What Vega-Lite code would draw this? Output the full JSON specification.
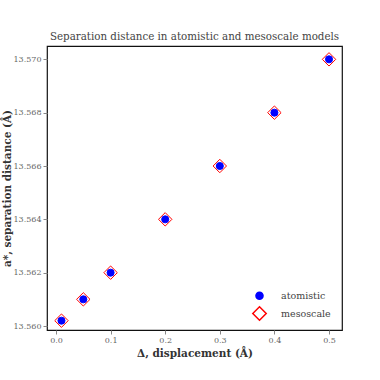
{
  "$schema": "https://vega.github.io/schema/vega-lite/v6.json",
  "autosize": "none",
  "width": 295,
  "height": 284,
  "padding": {"left": 47, "top": 46, "right": 38, "bottom": 50},
  "background": "white",
  "config": {
    "font": "DejaVu Serif",
    "view": {"stroke": "#111", "strokeWidth": 1.2},
    "axis": {"grid": false, "domain": false, "tickColor": "#888", "tickSize": 4, "labelColor": "#666", "labelFontSize": 8, "titleFontSize": 10.5, "titleFontWeight": "bold", "titleColor": "#333", "labelFont": "DejaVu Serif", "titleFont": "DejaVu Serif"},
    "legend": {"labelFont": "DejaVu Serif"},
    "title": {"font": "DejaVu Serif", "fontSize": 10.3, "fontWeight": "normal", "color": "#444", "offset": 4}
  },
  "title": "Separation distance in atomistic and mesoscale models",
  "data": {
    "values": [
      {"d": 0.01, "a": 13.5602, "series": "mesoscale"},
      {"d": 0.05, "a": 13.561, "series": "mesoscale"},
      {"d": 0.1, "a": 13.562, "series": "mesoscale"},
      {"d": 0.2, "a": 13.564, "series": "mesoscale"},
      {"d": 0.3, "a": 13.566, "series": "mesoscale"},
      {"d": 0.4, "a": 13.568, "series": "mesoscale"},
      {"d": 0.5, "a": 13.570, "series": "mesoscale"},
      {"d": 0.01, "a": 13.5602, "series": "atomistic"},
      {"d": 0.05, "a": 13.561, "series": "atomistic"},
      {"d": 0.1, "a": 13.562, "series": "atomistic"},
      {"d": 0.2, "a": 13.564, "series": "atomistic"},
      {"d": 0.3, "a": 13.566, "series": "atomistic"},
      {"d": 0.4, "a": 13.568, "series": "atomistic"},
      {"d": 0.5, "a": 13.570, "series": "atomistic"}
    ]
  },
  "mark": {"type": "point", "strokeWidth": 1, "opacity": 1},
  "encoding": {
    "x": {"field": "d", "type": "quantitative", "title": "Δ, displacement (Å)",
      "scale": {"domain": [-0.0165, 0.5238], "nice": false, "zero": false},
      "axis": {"values": [0, 0.1, 0.2, 0.3, 0.4, 0.5], "format": ".1f", "titlePadding": 4}},
    "y": {"field": "a", "type": "quantitative", "title": "a*, separation distance (Å)",
      "scale": {"domain": [13.55985, 13.5705], "nice": false, "zero": false},
      "axis": {"values": [13.56, 13.562, 13.564, 13.566, 13.568, 13.57], "format": ".3f", "titleX": -35}},
    "shape": {"field": "series", "type": "nominal", "scale": {"domain": ["atomistic", "mesoscale"], "range": ["circle", "diamond"]}, "legend": {"title": null}},
    "fill": {"field": "series", "type": "nominal", "scale": {"domain": ["atomistic", "mesoscale"], "range": ["#0000ff", "transparent"]}, "legend": {"title": null}},
    "stroke": {"field": "series", "type": "nominal", "scale": {"domain": ["atomistic", "mesoscale"], "range": ["#0000ff", "#ff0000"]}, "legend": {"title": null}},
    "size": {"field": "series", "type": "nominal", "scale": {"domain": ["atomistic", "mesoscale"], "range": [50, 180]},
      "legend": {"title": null, "orient": "none", "legendX": 205, "legendY": 245, "labelFont": "DejaVu Serif", "labelFontSize": 9.5, "labelColor": "#444", "rowPadding": 0, "labelOffset": 14}},
    "order": {"field": "series", "sort": "descending"}
  }
}
